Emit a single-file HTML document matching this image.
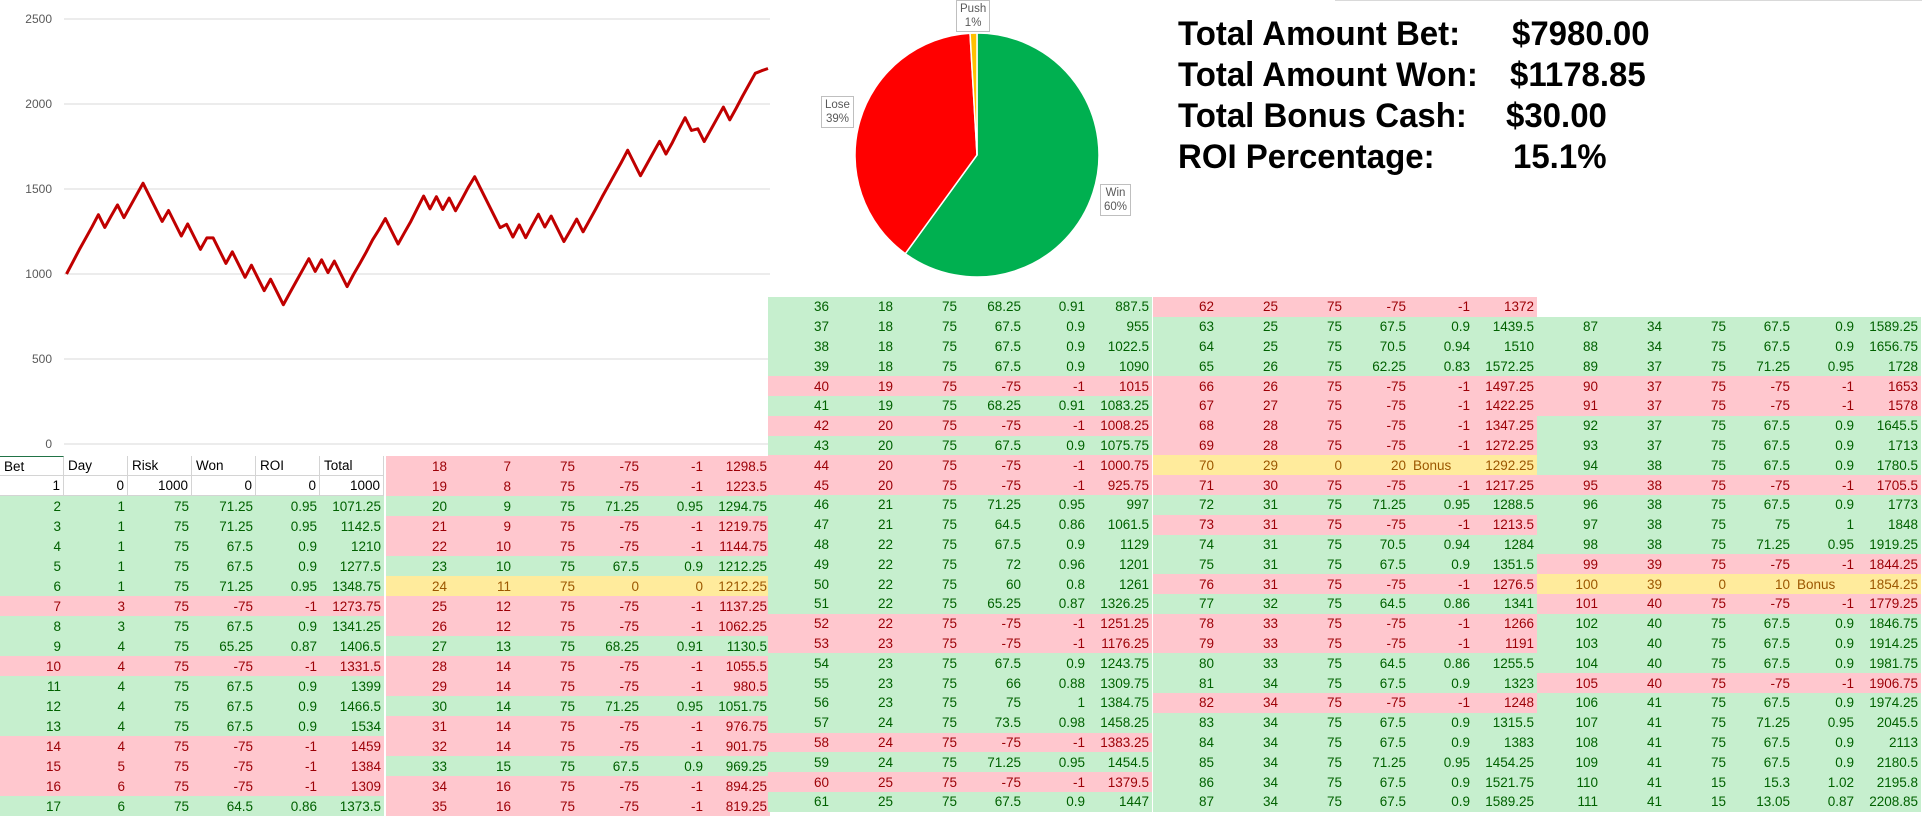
<!DOCTYPE html>
<html><head><meta charset="utf-8">
<style>
html,body{margin:0;padding:0;background:#fff;}
body{width:1922px;height:820px;position:relative;overflow:hidden;font-family:"Liberation Sans",Arial,sans-serif;}
.grp{position:absolute;}
.row{position:absolute;left:0;height:20px;display:flex;}
.cell{width:64px;height:100%;box-sizing:border-box;text-align:right;padding-right:3px;font-size:13.5px;white-space:nowrap;overflow:visible;display:flex;align-items:center;justify-content:flex-end;}
.g{background:#C6EFCE;color:#006100;}
.r{background:#FFC7CE;color:#9C0006;}
.y{background:#FFEB9C;color:#9C5700;}
.w{background:#fff;color:#000;}
.w .cell{border-right:1px solid #d4d4d4;border-bottom:1px solid #d4d4d4;}
.hdr .cell{justify-content:flex-start;padding-left:4px;}
.stat{position:absolute;font-weight:bold;font-size:34px;color:#000;white-space:nowrap;line-height:1;transform:scaleX(0.97);transform-origin:left top;}
.plabel{position:absolute;border:1px solid #bfbfbf;background:#fff;color:#595959;font-size:11.5px;text-align:center;line-height:14px;padding:1px 3px;}
</style></head>
<body>
<svg id="chart" width="780" height="456" style="position:absolute;left:0;top:0"></svg>
<svg id="pie" width="400" height="290" style="position:absolute;left:780px;top:0"></svg>
<div class="plabel" style="left:956px;top:0px;">Push<br>1%</div>
<div class="plabel" style="left:821px;top:96px;">Lose<br>39%</div>
<div class="plabel" style="left:1100px;top:184px;">Win<br>60%</div>
<div style="position:absolute;left:1335px;top:0;width:587px;height:1px;background:#d9d9d9"></div>
<div>
<div class="stat" style="left:1178px;top:17px">Total Amount Bet:</div>
<div class="stat" style="left:1512px;top:17px">$7980.00</div>
<div class="stat" style="left:1178px;top:58px">Total Amount Won:</div>
<div class="stat" style="left:1510px;top:58px">$1178.85</div>
<div class="stat" style="left:1178px;top:99px">Total Bonus Cash:</div>
<div class="stat" style="left:1506px;top:99px">$30.00</div>
<div class="stat" style="left:1178px;top:140px">ROI Percentage:</div>
<div class="stat" style="left:1513px;top:140px">15.1%</div>
</div>
<div id="tables"></div>
<script>
const betNums=[1,2,3,4,5,6,7,8,9,10,11,12,13,14,15,16,17,18,19,20,21,22,23,24,25,26,27,28,29,30,31,32,33,34,35,36,37,38,39,40,41,42,43,44,45,46,47,48,49,50,51,52,53,54,55,56,57,58,59,60,61,62,63,64,65,66,67,68,69,70,71,72,73,74,75,76,77,78,79,80,81,82,83,84,85,86,87,88,89,90,91,92,93,94,95,96,97,98,99,100,101,102,103,104,105,106,107,108,109,110,111];
const totals=[1000,1071.25,1142.5,1210,1277.5,1348.75,1273.75,1341.25,1406.5,1331.5,1399,1466.5,1534,1459,1384,1309,1373.5,1298.5,1223.5,1294.75,1219.75,1144.75,1212.25,1212.25,1137.25,1062.25,1130.5,1055.5,980.5,1051.75,976.75,901.75,969.25,894.25,819.25,887.5,955,1022.5,1090,1015,1083.25,1008.25,1075.75,1000.75,925.75,997,1061.5,1129,1201,1261,1326.25,1251.25,1176.25,1243.75,1309.75,1384.75,1458.25,1383.25,1454.5,1379.5,1447,1372,1439.5,1510,1572.25,1497.25,1422.25,1347.25,1272.25,1292.25,1217.25,1288.5,1213.5,1284,1351.5,1276.5,1341,1266,1191,1255.5,1323,1248,1315.5,1383,1454.25,1521.75,1589.25,1656.75,1728,1653,1578,1645.5,1713,1780.5,1705.5,1773,1848,1919.25,1844.25,1854.25,1779.25,1846.75,1914.25,1981.75,1906.75,1974.25,2045.5,2113,2180.5,2195.8,2208.85];
const yTicks=[0,500,1000,1500,2000,2500];
const pieLabels=["Win","Lose","Push"];
const pieValues=[66,43,1];
const pieColors=["#00B050","#FF0000","#FFC000"];

const NS="http://www.w3.org/2000/svg";
const chart=document.getElementById('chart');
const X0=66.5,XSTEP=(768-66.5)/110;
function xs(i){return X0+i*XSTEP;}
function ys(v){return 444-v*(425/2500);}
yTicks.forEach(t=>{
  const l=document.createElementNS(NS,'line');
  l.setAttribute('x1',64);l.setAttribute('x2',770);l.setAttribute('y1',ys(t));l.setAttribute('y2',ys(t));
  l.setAttribute('stroke','#d9d9d9');l.setAttribute('stroke-width','1');
  
  
  chart.appendChild(l);
  const tx=document.createElementNS(NS,'text');
  tx.setAttribute('x',52);tx.setAttribute('y',ys(t)+4);tx.setAttribute('text-anchor','end');
  tx.setAttribute('font-size','12');tx.setAttribute('fill','#595959');tx.setAttribute('font-family','Liberation Sans Narrow, Liberation Sans, sans-serif');
  tx.textContent=t;
  
  
  chart.appendChild(tx);
});
const pl=document.createElementNS(NS,'polyline');
pl.setAttribute('points',totals.map((v,i)=>xs(i).toFixed(2)+','+ys(v).toFixed(2)).join(' '));
pl.setAttribute('fill','none');pl.setAttribute('stroke','#C00000');pl.setAttribute('stroke-width','3');pl.setAttribute('stroke-linejoin','round');


chart.appendChild(pl);

const pie=document.getElementById('pie');
const cx=197,cy=155,R=122;
const sum=pieValues.reduce((a,b)=>a+b,0);
let ang=0;
pieValues.forEach((v,i)=>{
  const a0=ang,a1=ang+v/sum*2*Math.PI;ang=a1;
  const p0=[cx+R*Math.sin(a0),cy-R*Math.cos(a0)],p1=[cx+R*Math.sin(a1),cy-R*Math.cos(a1)];
  const large=(a1-a0)>Math.PI?1:0;
  const p=document.createElementNS(NS,'path');
  p.setAttribute('d',`M${cx},${cy} L${p0[0]},${p0[1]} A${R},${R} 0 ${large} 1 ${p1[0]},${p1[1]} Z`);
  p.setAttribute('fill',pieColors[i]);p.setAttribute('stroke','#fff');p.setAttribute('stroke-width','1.5');
  
  
  pie.appendChild(p);
});

const groups=[
 {x:0,top:456,h:20,header:true,rows:[
 "1|0|1000|0|0|1000|w","2|1|75|71.25|0.95|1071.25|g","3|1|75|71.25|0.95|1142.5|g","4|1|75|67.5|0.9|1210|g","5|1|75|67.5|0.9|1277.5|g","6|1|75|71.25|0.95|1348.75|g","7|3|75|-75|-1|1273.75|r","8|3|75|67.5|0.9|1341.25|g","9|4|75|65.25|0.87|1406.5|g","10|4|75|-75|-1|1331.5|r","11|4|75|67.5|0.9|1399|g","12|4|75|67.5|0.9|1466.5|g","13|4|75|67.5|0.9|1534|g","14|4|75|-75|-1|1459|r","15|5|75|-75|-1|1384|r","16|6|75|-75|-1|1309|r","17|6|75|64.5|0.86|1373.5|g"]},
 {x:386,top:456,h:20,rows:[
 "18|7|75|-75|-1|1298.5|r","19|8|75|-75|-1|1223.5|r","20|9|75|71.25|0.95|1294.75|g","21|9|75|-75|-1|1219.75|r","22|10|75|-75|-1|1144.75|r","23|10|75|67.5|0.9|1212.25|g","24|11|75|0|0|1212.25|y","25|12|75|-75|-1|1137.25|r","26|12|75|-75|-1|1062.25|r","27|13|75|68.25|0.91|1130.5|g","28|14|75|-75|-1|1055.5|r","29|14|75|-75|-1|980.5|r","30|14|75|71.25|0.95|1051.75|g","31|14|75|-75|-1|976.75|r","32|14|75|-75|-1|901.75|r","33|15|75|67.5|0.9|969.25|g","34|16|75|-75|-1|894.25|r","35|16|75|-75|-1|819.25|r"]},
 {x:768,top:297,h:19.8,rows:[
 "36|18|75|68.25|0.91|887.5|g","37|18|75|67.5|0.9|955|g","38|18|75|67.5|0.9|1022.5|g","39|18|75|67.5|0.9|1090|g","40|19|75|-75|-1|1015|r","41|19|75|68.25|0.91|1083.25|g","42|20|75|-75|-1|1008.25|r","43|20|75|67.5|0.9|1075.75|g","44|20|75|-75|-1|1000.75|r","45|20|75|-75|-1|925.75|r","46|21|75|71.25|0.95|997|g","47|21|75|64.5|0.86|1061.5|g","48|22|75|67.5|0.9|1129|g","49|22|75|72|0.96|1201|g","50|22|75|60|0.8|1261|g","51|22|75|65.25|0.87|1326.25|g","52|22|75|-75|-1|1251.25|r","53|23|75|-75|-1|1176.25|r","54|23|75|67.5|0.9|1243.75|g","55|23|75|66|0.88|1309.75|g","56|23|75|75|1|1384.75|g","57|24|75|73.5|0.98|1458.25|g","58|24|75|-75|-1|1383.25|r","59|24|75|71.25|0.95|1454.5|g","60|25|75|-75|-1|1379.5|r","61|25|75|67.5|0.9|1447|g"]},
 {x:1153,top:297,h:19.8,rows:[
 "62|25|75|-75|-1|1372|r","63|25|75|67.5|0.9|1439.5|g","64|25|75|70.5|0.94|1510|g","65|26|75|62.25|0.83|1572.25|g","66|26|75|-75|-1|1497.25|r","67|27|75|-75|-1|1422.25|r","68|28|75|-75|-1|1347.25|r","69|28|75|-75|-1|1272.25|r","70|29|0|20|Bonus|1292.25|y","71|30|75|-75|-1|1217.25|r","72|31|75|71.25|0.95|1288.5|g","73|31|75|-75|-1|1213.5|r","74|31|75|70.5|0.94|1284|g","75|31|75|67.5|0.9|1351.5|g","76|31|75|-75|-1|1276.5|r","77|32|75|64.5|0.86|1341|g","78|33|75|-75|-1|1266|r","79|33|75|-75|-1|1191|r","80|33|75|64.5|0.86|1255.5|g","81|34|75|67.5|0.9|1323|g","82|34|75|-75|-1|1248|r","83|34|75|67.5|0.9|1315.5|g","84|34|75|67.5|0.9|1383|g","85|34|75|71.25|0.95|1454.25|g","86|34|75|67.5|0.9|1521.75|g","87|34|75|67.5|0.9|1589.25|g"]},
 {x:1537,top:316.8,h:19.8,rows:[
 "87|34|75|67.5|0.9|1589.25|g","88|34|75|67.5|0.9|1656.75|g","89|37|75|71.25|0.95|1728|g","90|37|75|-75|-1|1653|r","91|37|75|-75|-1|1578|r","92|37|75|67.5|0.9|1645.5|g","93|37|75|67.5|0.9|1713|g","94|38|75|67.5|0.9|1780.5|g","95|38|75|-75|-1|1705.5|r","96|38|75|67.5|0.9|1773|g","97|38|75|75|1|1848|g","98|38|75|71.25|0.95|1919.25|g","99|39|75|-75|-1|1844.25|r","100|39|0|10|Bonus|1854.25|y","101|40|75|-75|-1|1779.25|r","102|40|75|67.5|0.9|1846.75|g","103|40|75|67.5|0.9|1914.25|g","104|40|75|67.5|0.9|1981.75|g","105|40|75|-75|-1|1906.75|r","106|41|75|67.5|0.9|1974.25|g","107|41|75|71.25|0.95|2045.5|g","108|41|75|67.5|0.9|2113|g","109|41|75|67.5|0.9|2180.5|g","110|41|15|15.3|1.02|2195.8|g","111|41|15|13.05|0.87|2208.85|g"]}
];
const colNames=["bet","day","risk","won","roi","total"];
const tables=document.getElementById('tables');
groups.forEach((G,gi)=>{
  const g=document.createElement('div');
  g.className='grp';
  g.style.left=G.x+'px';g.style.top=G.top+'px';
  
  
  let ri=0;
  if(G.header){
    const hr=document.createElement('div');
    hr.className='row w hdr';hr.style.top='0px';
    
    
    ["Bet","Day","Risk","Won","ROI","Total"].forEach((t,ci)=>{
      const c=document.createElement('div');c.className='cell';c.textContent=t;
      if(ci===0)c.style.borderTop='1px solid #217346';
      
      
      hr.appendChild(c);
    });
    g.appendChild(hr);ri=1;
  }
  G.rows.forEach(s=>{
    const p=s.split('|');
    const row=document.createElement('div');
    row.className='row '+p[6];
    row.style.top=(ri*G.h)+'px';row.style.height=G.h+'px';
    
    
    for(let ci=0;ci<6;ci++){
      const c=document.createElement('div');c.className='cell';
      c.textContent=p[ci];
      if(p[ci]==='Bonus'){c.style.justifyContent='flex-start';c.style.paddingLeft='4px';}
      
      
      row.appendChild(c);
    }
    g.appendChild(row);ri++;
  });
  tables.appendChild(g);
});
</script>
</body></html>
